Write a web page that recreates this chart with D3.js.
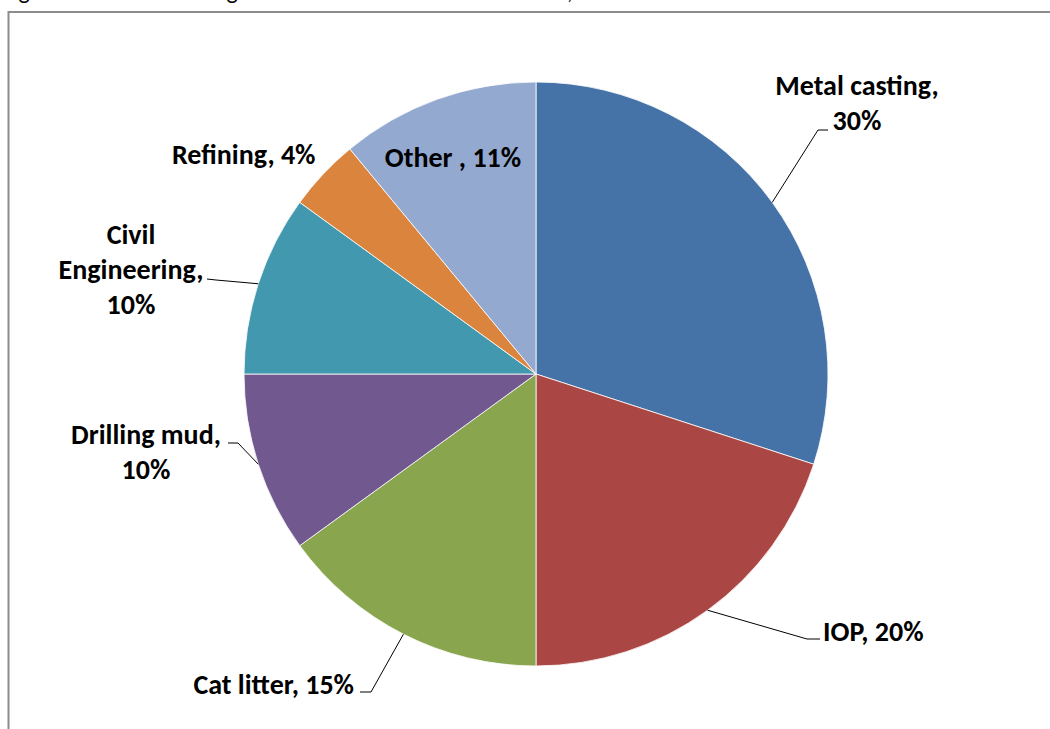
<!DOCTYPE html>
<html><head><meta charset="utf-8">
<script src="https://cdn.jsdelivr.net/npm/d3@7"></script>
<style>
html,body{margin:0;padding:0;background:#fff;}
svg{display:block;}
text{font-family:Carlito,Calibri,Lato,"Open Sans",sans-serif;font-weight:700;fill:#000;}
</style></head>
<body>
<svg id="chart" width="1050" height="729"></svg>
<script>
// ---- data ----
const categories = ["Metal casting", "IOP", "Cat litter", "Drilling mud", "Civil Engineering", "Refining", "Other "];
const shares = [30, 20, 15, 10, 10, 4, 11];
const colors = ["#4572A7", "#AA4643", "#89A54E", "#71588F", "#4198AF", "#DB843D", "#93A9CF"];

// ---- layout (label placement, not data) ----
const labelLayout = {
  "Metal casting":      {lines:["Metal casting,", "30%"], x:857, y:95, anchor:"middle", elbow:[818,130], end:[828,130]},
  "IOP":                {lines:["IOP, 20%"], x:823, y:641, anchor:"start", elbow:[807,639], end:[820,639]},
  "Cat litter":         {lines:["Cat litter, 15%"], x:354, y:694, anchor:"end", elbow:[371,692], end:[360,692]},
  "Drilling mud":       {lines:["Drilling mud,", "10%"], x:146, y:444, anchor:"middle", elbow:[238,443], end:[228,443]},
  "Civil Engineering":  {lines:["Civil", "Engineering,", "10%"], x:131, y:244, anchor:"middle", elbow:[216,280], end:[207,279]},
  "Refining":           {lines:["Refining, 4%"], x:172, y:164, anchor:"start"},
  "Other ":             {lines:["Other , 11%"], x:453, y:167, anchor:"middle"}
};

const W = 1050, H = 729;
const cx = 536, cy = 374, R = 292;
const svg = d3.select("#chart");

// frame
svg.append("rect").attr("x", 8.5).attr("y", 12).attr("width", 1100).attr("height", 800)
  .attr("fill", "none").attr("stroke", "#8c8c8c").attr("stroke-width", 2);

// caption above the frame (only its descenders fall inside the picture, as in the reference)
svg.append("text").attr("x", 2).attr("y", -1).attr("font-size", 24).style("font-weight", 400)
  .text("Figure 1: Bentonite usage in the United States and Canada, 2010");

const data = categories.map((c, i) => ({cat: c, value: shares[i], color: colors[i]}));
const pie = d3.pie().sort(null).value(d => d.value);
const arcs = pie(data);
const arc = d3.arc().innerRadius(0).outerRadius(R);

const g = svg.append("g").attr("transform", `translate(${cx},${cy})`);
g.selectAll("path").data(arcs).join("path")
  .attr("d", arc).attr("fill", d => d.data.color)
  .attr("stroke", "#fff").attr("stroke-width", 0.8);

// leader lines
const edgeArc = d3.arc().innerRadius(R).outerRadius(R);
arcs.forEach(a => {
  const L = labelLayout[a.data.cat];
  if (!L.elbow) return;
  const [ex, ey] = edgeArc.centroid(a);
  svg.append("polyline")
    .attr("points", [[cx + ex, cy + ey], L.elbow, L.end].map(p => p.join(",")).join(" "))
    .attr("fill", "none").attr("stroke", "#000").attr("stroke-width", 1);
});

// labels
const lineH = 35;
arcs.forEach(a => {
  const L = labelLayout[a.data.cat];
  const t = svg.append("text").attr("font-size", 28).attr("text-anchor", L.anchor);
  L.lines.forEach((s, i) => {
    t.append("tspan").attr("x", L.x).attr("y", L.y + i * lineH).text(s);
  });
});
</script>
</body></html>
